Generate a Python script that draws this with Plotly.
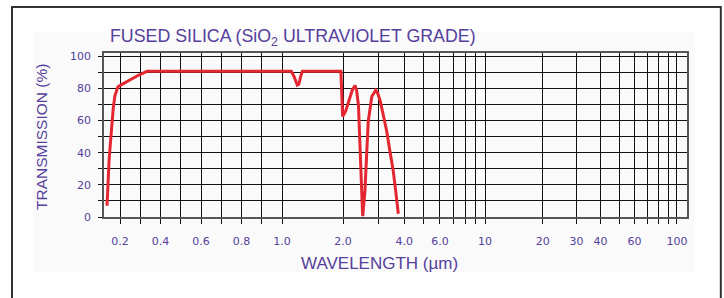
import math
import plotly.graph_objects as go

# ---- data ----
wavelength_um = [0.136, 0.140, 0.146, 0.152, 0.160, 0.167, 0.175, 0.184, 0.190, 0.210,
                 0.235, 0.260, 0.284, 0.310, 0.333, 1.11, 1.15, 1.19, 1.21, 1.24,
                 1.26, 1.95, 1.97, 1.99, 2.06, 2.14, 2.22, 2.29, 2.33, 2.38,
                 2.42, 2.46, 2.497, 2.53, 2.563, 2.61, 2.66, 2.77, 2.895, 2.96,
                 3.04, 3.16, 3.28, 3.40, 3.53, 3.64, 3.74]
transmission_pct = [7, 20, 35, 45, 60, 68, 75.5, 79.5, 81, 82.5,
                    84, 86, 87.7, 89.5, 90.6, 90.6, 87, 82, 82.5, 88,
                    90.6, 90.6, 78, 62.5, 66, 72, 79, 81.8, 79, 69.5,
                    45, 18, 0.5, 8, 16.7, 38, 59.4, 75, 78.8, 77,
                    72.6, 63, 53.3, 41, 28.8, 15, 2]

x_label_vals = [0.2, 0.4, 0.6, 0.8, 1.0, 2.0, 4.0, 6.0, 10, 20, 30, 40, 60, 100]
x_label_text = ["0.2", "0.4", "0.6", "0.8", "1.0", "2.0", "4.0", "6.0", "10",
                "20", "30", "40", "60", "100"]
x_minor_vals = [0.3, 0.5, 0.7, 0.9, 3, 5, 7, 8, 9, 50, 70, 80, 90]
y_label_vals = [0, 20, 40, 60, 80, 100]
y_minor_vals = [10, 30, 50, 70, 90]

TITLE = "FUSED SILICA (SiO<sub>2</sub> ULTRAVIOLET GRADE)"
XTITLE = "WAVELENGTH (µm)"
YTITLE = "TRANSMISSION (%)"


# The original chart uses a hybrid axis: linear below 1 µm, logarithmic above.
def axis_pos(wl):
    if wl <= 1.0:
        return wl
    if wl <= 10.0:
        return 1.0 + 1.0025 * math.log10(wl)
    return 1.0 + 1.0025 + 0.948 * math.log10(wl / 10.0)


TEXT_COLOR = "#55409c"
GRID = "#111111"

fig = go.Figure()
fig.add_trace(go.Scatter(
    x=[axis_pos(w) for w in wavelength_um],
    y=transmission_pct,
    mode="lines",
    line=dict(color="#e3262f", width=3),
    hoverinfo="skip",
))

fig.update_layout(
    width=724, height=298,
    margin=dict(l=104, r=37, t=53, b=81),
    paper_bgcolor="white",
    plot_bgcolor="white",
    showlegend=False,
    font=dict(family="DejaVu Sans", color=TEXT_COLOR, size=11),
)

fig.update_xaxes(
    range=[0.121, 3.0],
    tickmode="array",
    tickvals=[axis_pos(v) for v in x_label_vals],
    ticktext=x_label_text,
    showgrid=True, gridcolor=GRID, gridwidth=1,
    ticks="outside", ticklen=5, tickcolor=GRID, tickwidth=1,
    minor=dict(tickmode="array", tickvals=[axis_pos(v) for v in x_minor_vals],
               showgrid=True, gridcolor=GRID, gridwidth=1,
               ticks="outside", ticklen=5, tickcolor=GRID),
    showline=True, linecolor="#555555", linewidth=1.5, mirror=True,
    zeroline=False,
    tickfont=dict(family="DejaVu Sans", size=11, color=TEXT_COLOR),
    ticklabelstandoff=8,
)
fig.update_yaxes(
    range=[0, 102],
    tickmode="array",
    tickvals=y_label_vals,
    showgrid=True, gridcolor=GRID, gridwidth=1,
    ticks="outside", ticklen=4, tickcolor=GRID, tickwidth=1,
    minor=dict(tickmode="array", tickvals=y_minor_vals,
               showgrid=True, gridcolor=GRID, gridwidth=1,
               ticks="outside", ticklen=4, tickcolor=GRID),
    showline=True, linecolor="#555555", linewidth=1.5, mirror=True,
    zeroline=False,
    tickfont=dict(family="DejaVu Sans", size=11, color=TEXT_COLOR),
    ticklabelstandoff=5,
)

# background panel and outer frame
fig.add_shape(type="rect", xref="paper", yref="paper",
              x0=-0.1218, x1=1.0137, y0=-0.335, y1=1.128,
              fillcolor="#fafafa", line=dict(width=0), layer="below")
fig.add_shape(type="rect", xref="paper", yref="paper",
              x0=-0.1578, x1=1.058, y0=-0.56, y1=1.2805,
              fillcolor="rgba(0,0,0,0)", line=dict(color="#333333", width=2),
              layer="above")

fig.add_annotation(text=TITLE, xref="paper", yref="paper",
                   x=0.0069, y=1.0915, xanchor="left", yanchor="middle",
                   showarrow=False,
                   font=dict(family="Liberation Sans", size=17.8, color=TEXT_COLOR))
fig.add_annotation(text=XTITLE, xref="paper", yref="paper",
                   x=0.4734, y=-0.2805, xanchor="center", yanchor="middle",
                   showarrow=False,
                   font=dict(family="Liberation Sans", size=17, color=TEXT_COLOR))
fig.add_annotation(text=YTITLE, xref="paper", yref="paper",
                   x=-0.1063, y=0.488, xanchor="center", yanchor="middle",
                   textangle=-90, showarrow=False,
                   font=dict(family="Liberation Sans", size=15.5, color=TEXT_COLOR))

fig.write_html("out.html", config={"displayModeBar": False},
               post_script="document.body.style.margin='0';")
